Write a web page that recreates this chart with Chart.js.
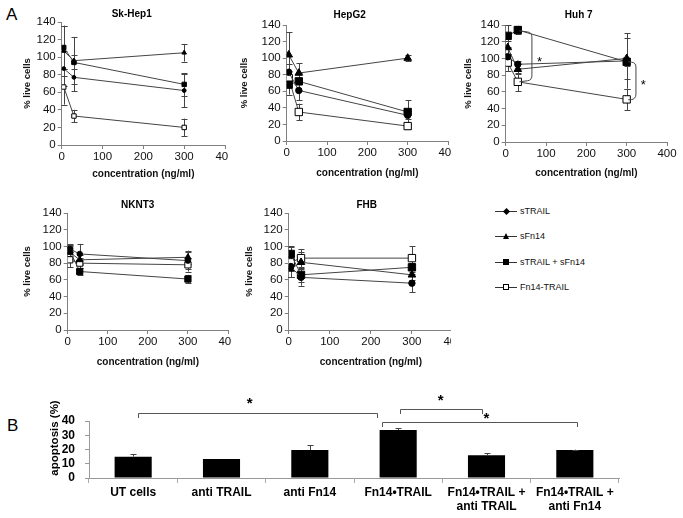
<!DOCTYPE html>
<html lang="en">
<head>
<meta charset="UTF-8">
<title>Fn14-TRAIL: viability and apoptosis</title>
<script src="https://cdn.jsdelivr.net/npm/chart.js@4.4.1/dist/chart.umd.min.js"></script>
<style>
    * { margin: 0; padding: 0; box-sizing: border-box; }
    body {
        width: 683px; height: 518px; background: #fff;
        position: relative; overflow: hidden;
        font-family: 'Liberation Sans', Arial, sans-serif;
    }
    .clip { position: absolute; overflow: hidden; }
    .clip canvas { position: absolute; left: 0; top: 0; }
    .tag { position: absolute; font-size: 17px; color: #000; line-height: 1; }
    #legend { position: absolute; left: 495px; top: 205px; width: 110px; height: 100px; }
    #legend .row { position: absolute; left: 0; height: 12px; width: 110px; }
    #legend .ln { position: absolute; left: 0; top: 6px; width: 22px; height: 1px; background: #333; }
    #legend .mk { position: absolute; }
    #legend .mk0 { left: 8.5px; top: 4px; width: 5px; height: 5px; background: #000; transform: rotate(45deg); }
    #legend .mk1 { left: 7.5px; top: 3px; width: 0; height: 0; border-left: 3.5px solid transparent; border-right: 3.5px solid transparent; border-bottom: 6px solid #000; }
    #legend .mk2 { left: 8px; top: 3.5px; width: 6px; height: 6px; background: #000; }
    #legend .mk3 { left: 8px; top: 3.5px; width: 6px; height: 6px; background: #fff; border: 1px solid #000; }
    #legend .tx { position: absolute; left: 25px; top: 0; font-size: 9px; line-height: 12px; color: #111; white-space: nowrap; }
</style>
</head>
<body>
    <div class="tag" style="left:6px; top:6px;">A</div>
    <div class="tag" style="left:7px; top:417px;">B</div>
    <div id="legend"></div>

<script>
// ---- data: panel A (% live cells) ----
const concentrations = [5, 30, 300];
const seriesNames = ['sTRAIL', 'sFn14', 'sTRAIL + sFn14', 'Fn14-TRAIL'];

// rows follow seriesNames
const skHep1Values = [[87, 77, 62], [107, 96, 105], [111, 94, 69], [66, 33, 20]];
const skHep1Errors = [[20, 16, 19], [28, 27, 10], [25, 8, 13], [20, 7, 10]];

const hepG2Values = [[83, 61, 31], [104, 82, 100], [68, 72, 35], [76, 35, 18]];
const hepG2Errors = [[10, 12, 5], [27, 12, 4], [12, 10, 14], [8, 10, 3]];

const huh7Values = [[102, 93, 97], [113, 87, 100], [127, 134, 96], [95, 72, 51]];
const huh7Errors = [[10, 4, 33], [8, 6, 25], [13, 5, 5], [10, 11, 13]];

const nknt3Values = [[97, 91, 83], [93, 84, 87], [95, 70, 61], [84, 80, 78]];
const nknt3Errors = [[6, 12, 10], [8, 6, 8], [7, 4, 5], [9, 6, 8]];

const fhbValues = [[76, 63, 56], [73, 81, 66], [91, 66, 75], [81, 86, 86]];
const fhbErrors = [[12, 10, 11], [10, 12, 6], [9, 8, 5], [18, 11, 14]];

// significance marks in Huh 7 (data coordinates)
const huh7Brackets = [
    { pts: [[34, 133], [65, 131], [65, 74], [34, 72]], star: [84, 99] },
    { pts: [[304, 96], [323, 95], [323, 51], [304, 50.5]], star: [341, 71] }
];

// ---- data: panel B (apoptosis %) ----
const apoptosisLabels = [['UT cells'], ['anti TRAIL'], ['anti Fn14'], ['Fn14•TRAIL'],
    ['Fn14•TRAIL +', 'anti TRAIL'], ['Fn14•TRAIL +', 'anti Fn14']];
const apoptosisValues = [15, 13.3, 19.6, 33.7, 16, 19.6];
const apoptosisErrors = [1.7, 0, 3.4, 1.4, 1.5, 0.3];
// from/to are category positions, y/tip are % values
const apoptosisBrackets = [
    { from: 0.05, to: 2.76, y: 45.6, tip: 42.1, star: [1.32, 54] },
    { from: 3.02, to: 3.95, y: 48.4, tip: 44.9, star: [3.48, 56] },
    { from: 2.82, to: 5.02, y: 39.3, tip: 35.8, star: [4.0, 43.5] }
];

// ---- styles ----
const FONT = "'Liberation Sans', Arial, sans-serif";
const pointStyles = ['circle', 'triangle', 'rect', 'rect'];
const pointFills = ['#000', '#000', '#000', '#fff'];
const pointRadii = [3.2, 4.4, 5.2, 5.2];

// error bars from dataset.errors
const errorBars = {
    id: 'errorBars',
    draw(chart, upOnly) {
        const ctx = chart.ctx;
        const yScale = chart.scales.y;
        ctx.save();
        ctx.strokeStyle = '#444';
        ctx.lineWidth = 1;
        chart.data.datasets.forEach((ds, i) => {
            if (!ds.errors) return;
            chart.getDatasetMeta(i).data.forEach((el, j) => {
                const err = ds.errors[j];
                if (!err) return;
                const raw = ds.data[j];
                const v = typeof raw === 'object' ? raw.y : raw;
                const x = Math.round(el.x) + 0.5;
                const yTop = yScale.getPixelForValue(v + err);
                const yBot = upOnly ? el.y : yScale.getPixelForValue(v - err);
                ctx.beginPath();
                ctx.moveTo(x, yTop); ctx.lineTo(x, yBot);
                ctx.moveTo(x - 3, Math.round(yTop) + 0.5); ctx.lineTo(x + 3, Math.round(yTop) + 0.5);
                if (!upOnly) { ctx.moveTo(x - 3, Math.round(yBot) + 0.5); ctx.lineTo(x + 3, Math.round(yBot) + 0.5); }
                ctx.stroke();
            });
        });
        ctx.restore();
    },
    beforeDatasetsDraw(chart, args, opts) { if (!opts.upOnly) this.draw(chart, false); },
    afterDatasetsDraw(chart, args, opts) { if (opts.upOnly) this.draw(chart, true); }
};

// free text placed in page coordinates (titles)
const pageText = {
    id: 'pageText',
    afterDraw(chart, args, opts) {
        const ctx = chart.ctx;
        (opts.items || []).forEach(t => {
            ctx.save();
            ctx.font = t.font;
            ctx.fillStyle = '#000';
            ctx.textAlign = 'center';
            ctx.textBaseline = 'middle';
            ctx.translate(t.x - opts.left, t.y - opts.top);
            if (t.rotate) ctx.rotate(t.rotate);
            ctx.fillText(t.text, 0, 0);
            ctx.restore();
        });
    }
};

function star(ctx, x, y, font) {
    ctx.font = font;
    ctx.fillStyle = '#000';
    ctx.textAlign = 'center';
    ctx.textBaseline = 'middle';
    ctx.fillText('*', x, y + 3);
}

const curlyBrackets = {
    id: 'curlyBrackets',
    afterDatasetsDraw(chart, args, opts) {
        if (!opts.list) return;
        const ctx = chart.ctx, xs = chart.scales.x, ys = chart.scales.y;
        ctx.save();
        ctx.strokeStyle = '#444';
        ctx.lineWidth = 1;
        opts.list.forEach(b => {
            const p = b.pts.map(q => [xs.getPixelForValue(q[0]), ys.getPixelForValue(q[1])]);
            ctx.beginPath();
            ctx.moveTo(p[0][0], p[0][1]);
            ctx.arcTo(p[1][0], p[1][1], p[2][0], p[2][1], 5);
            ctx.arcTo(p[2][0], p[2][1], p[3][0], p[3][1], 5);
            ctx.lineTo(p[3][0], p[3][1]);
            ctx.stroke();
            star(ctx, xs.getPixelForValue(b.star[0]), ys.getPixelForValue(b.star[1]), '13px ' + FONT);
        });
        ctx.restore();
    }
};

const sigBars = {
    id: 'sigBars',
    afterDraw(chart, args, opts) {
        const ctx = chart.ctx, xs = chart.scales.x, ys = chart.scales.y;
        ctx.save();
        ctx.strokeStyle = '#555';
        ctx.lineWidth = 1;
        opts.list.forEach(b => {
            const x1 = Math.round(xs.getPixelForValue(b.from)) + 0.5;
            const x2 = Math.round(xs.getPixelForValue(b.to)) + 0.5;
            const y = Math.round(ys.getPixelForValue(b.y)) + 0.5;
            const t = ys.getPixelForValue(b.tip);
            ctx.beginPath();
            ctx.moveTo(x1, t); ctx.lineTo(x1, y); ctx.lineTo(x2, y); ctx.lineTo(x2, t);
            ctx.stroke();
            star(ctx, xs.getPixelForValue(b.star[0]), ys.getPixelForValue(b.star[1]), 'bold 15px ' + FONT);
        });
        ctx.restore();
    }
};

function placeCanvas(left, top, width, height, clipW) {
    const wrap = document.createElement('div');
    wrap.className = 'clip';
    wrap.style.left = left + 'px';
    wrap.style.top = top + 'px';
    wrap.style.width = clipW + 'px';
    wrap.style.height = height + 'px';
    const canvas = document.createElement('canvas');
    canvas.width = width;
    canvas.height = height;
    wrap.appendChild(canvas);
    document.body.appendChild(wrap);
    return canvas;
}

const tickFont = { family: FONT, size: 11.5 };
const axisTitleFont = { family: FONT, size: 10, weight: 'bold', lineHeight: 1.2 };
const yTitleFont = { family: FONT, size: 9.5, weight: 'bold', lineHeight: 1.2 };

const panels = [
    { title: 'Sk-Hep1', values: skHep1Values, errors: skHep1Errors, area: { l: 62, r: 226, t: 22, b: 145 },
      top: 0, yTitleX: 28, xTitleY: 174, clipRight: 228, titleAt: [132, 14], marker: 0.6 },
    { title: 'HepG2', values: hepG2Values, errors: hepG2Errors, area: { l: 287, r: 449, t: 25, b: 141 },
      top: 0, yTitleX: 245, xTitleY: 173, clipRight: 451, titleAt: [350, 15], marker: 1 },
    { title: 'Huh 7', values: huh7Values, errors: huh7Errors, area: { l: 506, r: 668, t: 25, b: 142 },
      top: 0, yTitleX: 469, xTitleY: 173, clipRight: 683, titleAt: [579, 15], marker: 1, brackets: huh7Brackets },
    { title: 'NKNT3', values: nknt3Values, errors: nknt3Errors, area: { l: 68, r: 229, t: 213, b: 330 },
      top: 190, yTitleX: 28, xTitleY: 362, clipRight: 231, titleAt: [138, 205], marker: 0.85 },
    { title: 'FHB', values: fhbValues, errors: fhbErrors, area: { l: 289, r: 454, t: 213, b: 330 },
      top: 190, yTitleX: 250, xTitleY: 362, clipRight: 451, titleAt: [367, 205], marker: 1 }
];

panels.forEach(p => {
    const left = p.yTitleX - 5.7;
    const height = p.xTitleY + 6 - p.top;
    const width = p.area.r - left + 16;
    const canvas = placeCanvas(left, p.top, width, height, p.clipRight - left);

    new Chart(canvas, {
        type: 'line',
        data: {
            datasets: p.values.map((vals, i) => ({
                label: seriesNames[i],
                data: vals.map((v, j) => ({ x: concentrations[j], y: v })),
                errors: p.errors[i],
                borderColor: '#444',
                borderWidth: 1,
                tension: 0,
                pointStyle: pointStyles[i],
                pointRadius: pointRadii[i] * p.marker,
                pointBackgroundColor: pointFills[i],
                pointBorderColor: '#000',
                pointBorderWidth: 1
            }))
        },
        options: {
            responsive: false,
            animation: false,
            events: [],
            layout: { padding: { top: p.area.t - p.top, right: 16, left: 0, bottom: 0 } },
            plugins: {
                legend: { display: false },
                tooltip: { enabled: false },
                errorBars: {},
                curlyBrackets: { list: p.brackets },
                pageText: { left: left, top: p.top, items: [
                    { text: p.title, x: p.titleAt[0], y: p.titleAt[1], font: 'bold 10px ' + FONT }
                ] }
            },
            scales: {
                x: {
                    type: 'linear', min: 0, max: 400,
                    ticks: { stepSize: 100, font: tickFont, color: '#111', padding: 1, maxRotation: 0, autoSkip: false },
                    grid: { drawOnChartArea: false, tickLength: 4, color: '#808080' },
                    border: { color: '#808080' },
                    title: { display: true, text: 'concentration (ng/ml)', font: axisTitleFont, color: '#111', padding: 0 },
                    afterFit(s) { s.height = p.xTitleY + 6 - p.area.b; s.paddingLeft = 0; s.paddingRight = 0; }
                },
                y: {
                    min: 0, max: 140,
                    ticks: { stepSize: 20, font: tickFont, color: '#111', padding: 2, autoSkip: false },
                    grid: { drawOnChartArea: false, tickLength: 4, color: '#808080' },
                    border: { color: '#808080' },
                    title: { display: true, text: '% live cells', font: yTitleFont, color: '#111', padding: 0 },
                    afterFit(s) { s.width = p.area.l - left; }
                }
            }
        },
        plugins: [errorBars, curlyBrackets, pageText]
    });
});

// ---- legend ----
const legendBox = document.getElementById('legend');
seriesNames.forEach((name, i) => {
    const row = document.createElement('div');
    row.className = 'row';
    row.style.top = (i * 25.3) + 'px';
    row.innerHTML = '<span class="ln"></span><span class="mk mk' + i + '"></span><span class="tx"></span>';
    row.querySelector('.tx').textContent = name;
    legendBox.appendChild(row);
});

// ---- panel B ----
const bArea = { l: 89, r: 619, t: 421, b: 478 };
const bLeft = 40, bTop = 388, bWidth = 600, bHeight = 130;
const bCanvas = placeCanvas(bLeft, bTop, bWidth, bHeight, bWidth);
const boldTick = { family: FONT, size: 12, weight: 'bold', lineHeight: 1.17 };

new Chart(bCanvas, {
    type: 'bar',
    data: {
        labels: apoptosisLabels,
        datasets: [{
            data: apoptosisValues,
            errors: apoptosisErrors,
            backgroundColor: '#000',
            barPercentage: 0.42,
            categoryPercentage: 1
        }]
    },
    options: {
        responsive: false,
        animation: false,
        events: [],
        layout: { padding: { top: bArea.t - bTop, right: bLeft + bWidth - bArea.r, left: 0, bottom: 0 } },
        plugins: {
            legend: { display: false },
            tooltip: { enabled: false },
            errorBars: { upOnly: true },
            sigBars: { list: apoptosisBrackets },
            pageText: { left: bLeft, top: bTop, items: [
                { text: 'apoptosis (%)', x: 55, y: 438, rotate: -Math.PI / 2, font: 'bold 11.5px ' + FONT }
            ] }
        },
        scales: {
            x: {
                ticks: { font: boldTick, color: '#000', padding: 3, autoSkip: false, maxRotation: 0, minRotation: 0 },
                grid: { offset: true, drawOnChartArea: false, tickLength: 5, color: '#aaa' },
                border: { color: '#999' },
                afterFit(s) { s.height = bTop + bHeight - bArea.b; s.paddingLeft = 0; s.paddingRight = 0; }
            },
            y: {
                min: 0, max: 40,
                ticks: { stepSize: 10, font: { family: FONT, size: 12, weight: 'bold' }, color: '#000', padding: 10, autoSkip: false },
                grid: { drawOnChartArea: false, tickLength: 4, color: '#999' },
                border: { color: '#999' },
                afterFit(s) { s.width = bArea.l - bLeft; }
            }
        }
    },
    plugins: [errorBars, sigBars, pageText]
});
</script>
</body>
</html>
